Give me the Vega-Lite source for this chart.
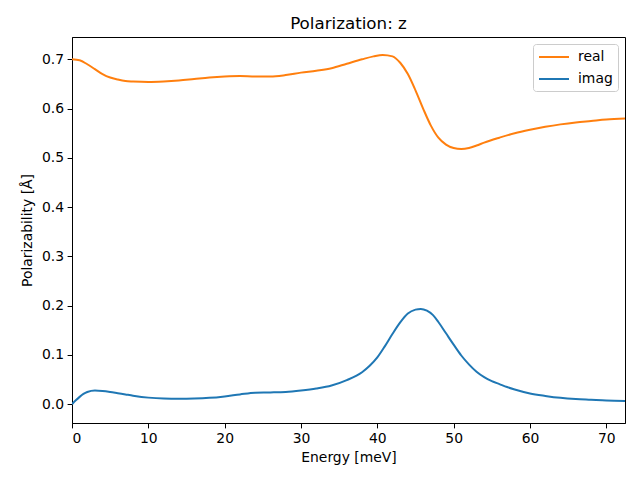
{
  "$schema": "https://vega.github.io/schema/vega-lite/v6.json",
  "autosize": {"type": "none"},
  "width": 553,
  "height": 386,
  "padding": {"left": 72, "top": 37, "right": 15, "bottom": 57},
  "background": "white",
  "config": {
    "font": "DejaVu Sans",
    "view": {"stroke": "black", "strokeWidth": 1},
    "axis": {
      "grid": false,
      "domainColor": "black",
      "tickColor": "black",
      "tickSize": 4.9,
      "labelPadding": 3.5,
      "labelFontSize": 13.9,
      "labelColor": "black",
      "titleFontSize": 13.9,
      "titleFontWeight": "normal",
      "titleColor": "black",
      "labelFont": "DejaVu Sans",
      "titleFont": "DejaVu Sans"
    }
  },
  "title": {
    "text": "Polarization: z",
    "fontSize": 16.7,
    "fontWeight": "normal",
    "font": "DejaVu Sans",
    "color": "black",
    "offset": 4
  },
  "data": {
    "values": [
      {"E": 0, "v": 0.700, "part": "real"},
      {"E": 1, "v": 0.698, "part": "real"},
      {"E": 2, "v": 0.690, "part": "real"},
      {"E": 3, "v": 0.680, "part": "real"},
      {"E": 4, "v": 0.670, "part": "real"},
      {"E": 5, "v": 0.663, "part": "real"},
      {"E": 6, "v": 0.659, "part": "real"},
      {"E": 7, "v": 0.656, "part": "real"},
      {"E": 8, "v": 0.655, "part": "real"},
      {"E": 10, "v": 0.654, "part": "real"},
      {"E": 12, "v": 0.655, "part": "real"},
      {"E": 14, "v": 0.657, "part": "real"},
      {"E": 16, "v": 0.660, "part": "real"},
      {"E": 18, "v": 0.663, "part": "real"},
      {"E": 20, "v": 0.665, "part": "real"},
      {"E": 22, "v": 0.666, "part": "real"},
      {"E": 24, "v": 0.665, "part": "real"},
      {"E": 26, "v": 0.665, "part": "real"},
      {"E": 28, "v": 0.668, "part": "real"},
      {"E": 30, "v": 0.673, "part": "real"},
      {"E": 32, "v": 0.677, "part": "real"},
      {"E": 34, "v": 0.682, "part": "real"},
      {"E": 36, "v": 0.691, "part": "real"},
      {"E": 38, "v": 0.700, "part": "real"},
      {"E": 39.5, "v": 0.706, "part": "real"},
      {"E": 40.7, "v": 0.709, "part": "real"},
      {"E": 42, "v": 0.706, "part": "real"},
      {"E": 43, "v": 0.693, "part": "real"},
      {"E": 44, "v": 0.670, "part": "real"},
      {"E": 45, "v": 0.637, "part": "real"},
      {"E": 46, "v": 0.600, "part": "real"},
      {"E": 47, "v": 0.566, "part": "real"},
      {"E": 48, "v": 0.541, "part": "real"},
      {"E": 49, "v": 0.527, "part": "real"},
      {"E": 50, "v": 0.520, "part": "real"},
      {"E": 51, "v": 0.518, "part": "real"},
      {"E": 52, "v": 0.520, "part": "real"},
      {"E": 53, "v": 0.525, "part": "real"},
      {"E": 54, "v": 0.531, "part": "real"},
      {"E": 56, "v": 0.541, "part": "real"},
      {"E": 58, "v": 0.550, "part": "real"},
      {"E": 60, "v": 0.557, "part": "real"},
      {"E": 62, "v": 0.563, "part": "real"},
      {"E": 64, "v": 0.568, "part": "real"},
      {"E": 66, "v": 0.572, "part": "real"},
      {"E": 68, "v": 0.575, "part": "real"},
      {"E": 70, "v": 0.578, "part": "real"},
      {"E": 72.45, "v": 0.580, "part": "real"},
      {"E": 0, "v": 0.000, "part": "imag"},
      {"E": 0.5, "v": 0.008, "part": "imag"},
      {"E": 1, "v": 0.015, "part": "imag"},
      {"E": 1.5, "v": 0.021, "part": "imag"},
      {"E": 2, "v": 0.025, "part": "imag"},
      {"E": 3, "v": 0.028, "part": "imag"},
      {"E": 4, "v": 0.027, "part": "imag"},
      {"E": 5, "v": 0.025, "part": "imag"},
      {"E": 6, "v": 0.0225, "part": "imag"},
      {"E": 7, "v": 0.020, "part": "imag"},
      {"E": 8, "v": 0.0175, "part": "imag"},
      {"E": 10, "v": 0.0135, "part": "imag"},
      {"E": 12, "v": 0.0115, "part": "imag"},
      {"E": 14, "v": 0.011, "part": "imag"},
      {"E": 16, "v": 0.0115, "part": "imag"},
      {"E": 18, "v": 0.013, "part": "imag"},
      {"E": 20, "v": 0.016, "part": "imag"},
      {"E": 22, "v": 0.020, "part": "imag"},
      {"E": 24, "v": 0.0235, "part": "imag"},
      {"E": 26, "v": 0.024, "part": "imag"},
      {"E": 28, "v": 0.025, "part": "imag"},
      {"E": 30, "v": 0.028, "part": "imag"},
      {"E": 32, "v": 0.032, "part": "imag"},
      {"E": 34, "v": 0.038, "part": "imag"},
      {"E": 36, "v": 0.049, "part": "imag"},
      {"E": 38, "v": 0.065, "part": "imag"},
      {"E": 39, "v": 0.078, "part": "imag"},
      {"E": 40, "v": 0.095, "part": "imag"},
      {"E": 41, "v": 0.118, "part": "imag"},
      {"E": 42, "v": 0.143, "part": "imag"},
      {"E": 43, "v": 0.166, "part": "imag"},
      {"E": 44, "v": 0.184, "part": "imag"},
      {"E": 45, "v": 0.192, "part": "imag"},
      {"E": 45.7, "v": 0.1935, "part": "imag"},
      {"E": 46.5, "v": 0.190, "part": "imag"},
      {"E": 47.3, "v": 0.181, "part": "imag"},
      {"E": 48, "v": 0.167, "part": "imag"},
      {"E": 49, "v": 0.144, "part": "imag"},
      {"E": 50, "v": 0.121, "part": "imag"},
      {"E": 51, "v": 0.099, "part": "imag"},
      {"E": 52, "v": 0.081, "part": "imag"},
      {"E": 53, "v": 0.066, "part": "imag"},
      {"E": 54, "v": 0.055, "part": "imag"},
      {"E": 55, "v": 0.047, "part": "imag"},
      {"E": 56, "v": 0.041, "part": "imag"},
      {"E": 57, "v": 0.035, "part": "imag"},
      {"E": 58, "v": 0.030, "part": "imag"},
      {"E": 60, "v": 0.022, "part": "imag"},
      {"E": 62, "v": 0.017, "part": "imag"},
      {"E": 64, "v": 0.013, "part": "imag"},
      {"E": 66, "v": 0.0105, "part": "imag"},
      {"E": 68, "v": 0.009, "part": "imag"},
      {"E": 70, "v": 0.0075, "part": "imag"},
      {"E": 72.45, "v": 0.0065, "part": "imag"}
    ]
  },
  "mark": {"type": "line", "strokeWidth": 2, "interpolate": "monotone", "clip": true},
  "encoding": {
    "x": {
      "field": "E",
      "type": "quantitative",
      "scale": {"domain": [0, 72.45], "nice": false, "zero": false},
      "axis": {"title": "Energy [meV]", "values": [0, 10, 20, 30, 40, 50, 60, 70], "format": "d", "titlePadding": 5}
    },
    "y": {
      "field": "v",
      "type": "quantitative",
      "scale": {"domain": [-0.038, 0.7453], "nice": false, "zero": false},
      "axis": {"title": "Polarizability [Å]", "values": [0, 0.1, 0.2, 0.3, 0.4, 0.5, 0.6, 0.7], "format": ".1f", "titlePadding": 7}
    },
    "color": {
      "field": "part",
      "type": "nominal",
      "scale": {"domain": ["real", "imag"], "range": ["#ff7f0e", "#1f77b4"]},
      "legend": {
        "title": null,
        "orient": "none",
        "legendX": 461,
        "legendY": 7,
        "symbolType": "M-2.14,0L2.14,0",
        "symbolSize": 196,
        "symbolStrokeWidth": 2,
        "symbolOffset": 8,
        "labelFontSize": 13.9,
        "labelColor": "black",
        "labelFont": "DejaVu Sans",
        "rowPadding": 7,
        "padding": 5,
        "strokeColor": "#cccccc",
        "fillColor": "white",
        "cornerRadius": 3,
        "labelOffset": 16
      }
    }
  }
}
